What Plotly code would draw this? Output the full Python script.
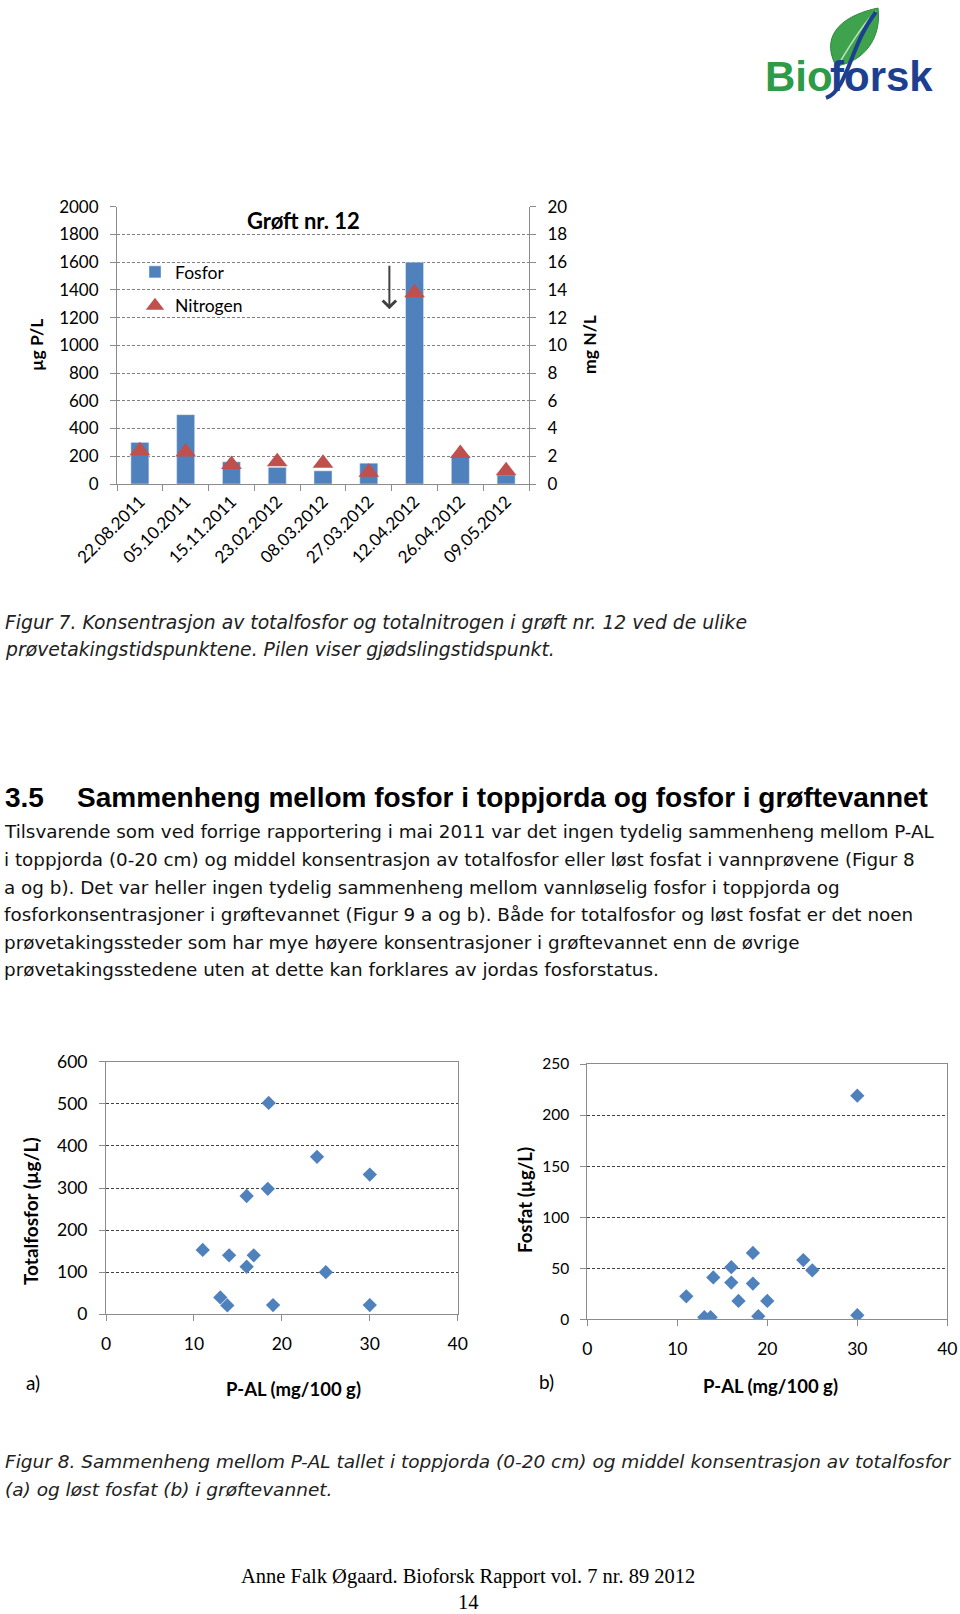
import plotly.graph_objects as go

W, H = 960, 1614

# ---- data: Figur 7 (Grøft nr. 12)
dates = ["22.08.2011", "05.10.2011", "15.11.2011", "23.02.2012", "08.03.2012",
         "27.03.2012", "12.04.2012", "26.04.2012", "09.05.2012"]
fosfor = [300, 500, 160, 120, 95, 150, 1600, 205, 65]          # µg P/L
nitrogen = [2.4, 2.3, 1.4, 1.6, 1.5, 0.85, 13.8, 2.2, 0.95]     # mg N/L
fertilising_pos = 5.45  # arrow between 27.03 and 12.04

# ---- data: Figur 8 a) P-AL vs totalfosfor
pal_a = [11, 14, 16.8, 16, 16, 18.4, 18.5, 24, 30, 25, 13, 13.8, 19, 30]
totp_a = [153, 140, 140, 113, 281, 298, 502, 374, 332, 100, 40, 21, 22, 22]

# ---- data: Figur 8 b) P-AL vs fosfat
pal_b = [30, 18.4, 16, 24, 25, 14, 16, 18.4, 11, 16.8, 20, 13, 13.7, 19, 30]
fosfat_b = [219, 65, 51, 58, 48, 41, 36, 35, 22.5, 18, 18, 2, 2, 3, 4]

caption7 = ["Figur 7. Konsentrasjon av totalfosfor og totalnitrogen i grøft nr. 12 ved de ulike",
            "prøvetakingstidspunktene. Pilen viser gjødslingstidspunkt."]
heading_no = "3.5"
heading = "Sammenheng mellom fosfor i toppjorda og fosfor i grøftevannet"
body = [
    "Tilsvarende som ved forrige rapportering i mai 2011 var det ingen tydelig sammenheng mellom P-AL",
    "i toppjorda (0-20 cm) og middel konsentrasjon av totalfosfor eller løst fosfat i vannprøvene (Figur 8",
    "a og b). Det var heller ingen tydelig sammenheng mellom vannløselig fosfor i toppjorda og",
    "fosforkonsentrasjoner i grøftevannet (Figur 9 a og b). Både for totalfosfor og løst fosfat er det noen",
    "prøvetakingssteder som har mye høyere konsentrasjoner i grøftevannet enn de øvrige",
    "prøvetakingsstedene uten at dette kan forklares av jordas fosforstatus.",
]
caption8 = ["Figur 8. Sammenheng mellom P-AL tallet i toppjorda (0-20 cm) og middel konsentrasjon av totalfosfor",
            "(a) og løst fosfat (b) i grøftevannet."]
footer = ["Anne Falk Øgaard. Bioforsk Rapport vol. 7 nr. 89 2012", "14"]

BLUE = "#4F81BD"
RED = "#C0504D"
AXIS = "#8C8C8C"
CHART_FONT = "Lato"


def fx(p):
    return p / W


def fy(p):
    return 1 - p / H


fig = go.Figure()

fig.add_trace(go.Bar(x=dates, y=fosfor, name="Fosfor", marker_color=BLUE,
                     xaxis="x", yaxis="y", legendgroup="a"))
fig.add_trace(go.Scatter(x=dates, y=nitrogen, name="Nitrogen", mode="markers",
                         marker=dict(symbol="triangle-up", size=18, color=RED),
                         xaxis="x", yaxis="y2", legendgroup="b"))
fig.add_trace(go.Scatter(x=pal_a, y=totp_a, mode="markers", showlegend=False,
                         marker=dict(symbol="diamond", size=11, color=BLUE),
                         xaxis="x3", yaxis="y3"))
fig.add_trace(go.Scatter(x=pal_b, y=fosfat_b, mode="markers", showlegend=False,
                         marker=dict(symbol="diamond", size=11, color=BLUE),
                         xaxis="x4", yaxis="y4"))

tick_font = dict(family=CHART_FONT, size=17, color="#000")
sc_font = dict(family=CHART_FONT, size=17.5, color="#000")
common_y = dict(showline=True, linecolor=AXIS, linewidth=1, ticks="outside", ticklen=6,
                tickcolor=AXIS, zeroline=False, ticklabelstandoff=8)

fig.update_layout(
    width=W, height=H, margin=dict(l=0, r=0, t=0, b=0, autoexpand=False),
    paper_bgcolor="white", plot_bgcolor="white",
    bargap=0.607, showlegend=True,
    legend=dict(x=fx(135), y=fy(254), xanchor="left", yanchor="top",
                bgcolor="rgba(0,0,0,0)", font=dict(family=CHART_FONT, size=17.5, color="#000"),
                tracegroupgap=8, itemwidth=30),
    xaxis=dict(domain=[fx(117), fx(529)], type="category", range=[-0.5, 8.5],
               showline=True, linecolor=AXIS, ticks="outside", ticklen=6, tickcolor=AXIS,
               tickson="boundaries", tickangle=-45, tickfont=tick_font, showgrid=False),
    yaxis=dict(domain=[fy(484), fy(206.7)], range=[0, 2000], dtick=200, tickfont=tick_font,
               showgrid=True, gridcolor="#808080", griddash="3px,2px", **common_y),
    yaxis2=dict(overlaying="y", side="right", range=[0, 20], dtick=2, showgrid=False,
                anchor="x", tickfont=tick_font, **common_y),
    xaxis3=dict(domain=[fx(106), fx(457.7)], range=[0, 40], dtick=10, anchor="y3",
                showline=True, mirror=True, linecolor=AXIS, ticks="outside", ticklen=6,
                tickcolor=AXIS, showgrid=False, zeroline=False, tickfont=sc_font,
                ticklabelstandoff=8),
    yaxis3=dict(domain=[fy(1314.3), fy(1061.7)], range=[0, 600], dtick=100, anchor="x3",
                mirror=True, showgrid=True, gridcolor="#404040", griddash="3px,2px",
                tickfont=sc_font, **common_y),
    xaxis4=dict(domain=[fx(587.3), fx(947.3)], range=[0, 40], dtick=10, anchor="y4",
                showline=True, mirror=True, linecolor=AXIS, ticks="outside", ticklen=6,
                tickcolor=AXIS, showgrid=False, zeroline=False, tickfont=sc_font,
                ticklabelstandoff=8),
    yaxis4=dict(domain=[fy(1319.3), fy(1064)], range=[0, 250], dtick=50, anchor="x4",
                mirror=True, showgrid=True, gridcolor="#404040", griddash="3px,2px",
                tickfont=dict(family=CHART_FONT, size=15.5, color="#000"), **common_y),
)

# white patch behind the legend that interrupts the gridlines
fig.add_shape(type="rect", xref="paper", yref="y", x0=fx(124), x1=fx(265), y0=1100, y1=1700,
              fillcolor="white", line_width=0, layer="between")

ann = []


def text(x, y, s, size, family, color="#000", anchor="left", angle=0, bold=False, italic=False):
    ann.append(dict(x=fx(x), y=fy(y), xref="paper", yref="paper", text=s, showarrow=False,
                    xanchor=anchor, yanchor="middle", textangle=angle,
                    font=dict(family=family, size=size, color=color,
                              weight="bold" if bold else "normal",
                              style="italic" if italic else "normal")))


# chart texts
text(303, 220, "Grøft nr. 12", 22, CHART_FONT, anchor="center", bold=True)
text(37, 345, "µg P/L", 17.5, CHART_FONT, anchor="center", angle=-90, bold=True)
text(590, 345, "mg N/L", 17.5, CHART_FONT, anchor="center", angle=-90, bold=True)
text(30, 1211, "Totalfosfor (µg/L)", 19, CHART_FONT, anchor="center", angle=-90, bold=True)
text(293, 1389, "P-AL (mg/100 g)", 18.5, CHART_FONT, anchor="center", bold=True)
text(33, 1382, "a)", 19, CHART_FONT, anchor="center")
text(525, 1200, "Fosfat (µg/L)", 18.5, CHART_FONT, anchor="center", angle=-90, bold=True)
text(770, 1386, "P-AL (mg/100 g)", 18.5, CHART_FONT, anchor="center", bold=True)
text(546, 1381, "b)", 19, CHART_FONT, anchor="center")

# arrow marking fertilising time
ann.append(dict(x=fertilising_pos, y=1260, ax=fertilising_pos, ay=1585, xref="x", yref="y",
                axref="x", ayref="y", showarrow=True, arrowhead=4, arrowsize=1.3,
                arrowwidth=2, arrowcolor="#404040", text=""))

# page texts
for i, line in enumerate(caption7):
    text(3, 622 + 27 * i, line, 18.8, "DejaVu Sans", color="#222", italic=True)
text(3, 797, heading_no, 28, "Liberation Sans", bold=True)
text(75, 797, heading, 28, "Liberation Sans", bold=True)
for i, line in enumerate(body):
    text(2, 832 + 27.5 * i, line, 18.35, "DejaVu Sans", color="#111")
for i, line in enumerate(caption8):
    text(3, 1461 + 28 * i, line, 18.5, "DejaVu Sans", color="#222", italic=True)
text(468, 1576, footer[0], 20.5, "Liberation Serif", anchor="center")
text(468, 1602, footer[1], 20.5, "Liberation Serif", anchor="center")

# logo
text(763, 76, "Bio", 42, "Liberation Sans", color="#2E9B47", bold=True)
text(828, 76, "forsk", 42, "Liberation Sans", color="#1D3F8F", bold=True)

leaf = "M {:.4f},{:.4f} C {:.4f},{:.4f} {:.4f},{:.4f} {:.4f},{:.4f} C {:.4f},{:.4f} {:.4f},{:.4f} {:.4f},{:.4f} Z".format(
    fx(836), fy(66), fx(818), fy(32), fx(848), fy(14), fx(878), fy(8),
    fx(882), fy(38), fx(864), fy(62), fx(836), fy(66))
fig.add_shape(type="path", xref="paper", yref="paper", path=leaf,
              fillcolor="#3FA34D", line=dict(color="#2E8B3E", width=1))
vein = "M {:.4f},{:.4f} C {:.4f},{:.4f} {:.4f},{:.4f} {:.4f},{:.4f}".format(
    fx(840), fy(62), fx(850), fy(45), fx(862), fy(25), fx(876), fy(11))
fig.add_shape(type="path", xref="paper", yref="paper", path=vein,
              line=dict(color="#BFE3C0", width=1.5))
swoosh = "M {:.4f},{:.4f} C {:.4f},{:.4f} {:.4f},{:.4f} {:.4f},{:.4f}".format(
    fx(826), fy(98), fx(848), fy(90), fx(850), fy(45), fx(876), fy(12))
fig.add_shape(type="path", xref="paper", yref="paper", path=swoosh,
              line=dict(color="#1D3F8F", width=4))

fig.update_layout(annotations=ann)
fig.write_html("out.html", config={"displayModeBar": False},
               post_script="document.body.style.margin='0';")
